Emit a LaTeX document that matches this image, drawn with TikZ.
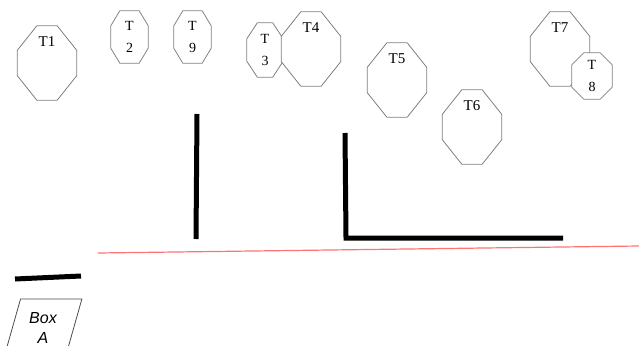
\documentclass[tikz,border=0pt]{standalone}
\usepackage{fontspec}
\setmainfont{Liberation Serif}
\newfontfamily\boxfont{Liberation Sans}
\usepackage{tikz}
\usetikzlibrary{shapes.geometric,backgrounds}
\tikzset{tbox/.style={minimum width=59pt,minimum height=74pt,inner sep=0pt,
        font=\fontsize{14}{22}\selectfont,align=center},
    tname/.style={label={[anchor=north,inner sep=0pt,yshift=-11pt,
        font=\fontsize{15}{17}\selectfont]north:#1}},
    tsmall/.style={minimum width=37pt,minimum height=52pt},
    tline/.style={draw=gray,fill=white,line width=0.8pt},
    octagon/.style n args={3}{insert path={
        ([xshift=#2]#1.north west) -- ([xshift=-#2]#1.north east)
        -- ([yshift=-#3]#1.north east) -- ([yshift=#3]#1.south east)
        -- ([xshift=-#2]#1.south east) -- ([xshift=#2]#1.south west)
        -- ([yshift=#3]#1.south west) -- ([yshift=-#3]#1.north west) -- cycle}},
    wall/.style={line width=5pt},
    floorline/.style={draw=red!55,line width=1.2pt}}

\begin{document}
\begin{tikzpicture}[x=1pt,y=-1pt]
    \useasboundingbox (0,0) rectangle (639,345);
    \clip (0,0) rectangle (639,345);
    % tables
    \node[tbox,tname=T1] (t1) at (47,63) {};
    \node[tbox,tsmall] (t2) at (129.5,37) {T\\2};
    \node[tbox,tsmall] (t9) at (192.5,37) {T\\9};
    \node[tbox,tsmall,minimum width=36pt,minimum height=54pt] (t3) at (265,50) {T\\3};
    \node[tbox,tname=T4] (t4) at (311,49) {};
    \node[tbox,tname=T5] (t5) at (397,80) {};
    \node[tbox,tname=T6] (t6) at (472,127) {};
    \node[tbox,tname=T7] (t7) at (560,49) {};
    \node[tbox,tsmall,minimum width=40pt,minimum height=46pt] (t8) at (592,76) {T\\8};
    \begin{pgfonlayer}{background}
        \foreach \t/\cx/\cy in {t1/19.5/24.5, t2/9/15, t9/9/15, t3/10.5/16,
            t4/19.5/24.5, t5/19.5/24.5, t6/19.5/24.5, t7/19.5/24.5, t8/12/12}
            \path[tline][octagon={\t}{\cx pt}{\cy pt}];
    \end{pgfonlayer}
    % walls
    \coordinate (w1a) at (197,114);
    \coordinate (w1b) at (196,239);
    \coordinate (w2a) at (345,133);
    \coordinate (w2b) at (346,238);
    \coordinate (w2c) at (563,238);
    \draw[wall] (w1a) -- (w1b);
    \draw[wall] (w2a) -- (w2b) -- (w2c);
    \coordinate (fl) at (98,253);
    \coordinate (fr) at (639,246);
    \draw[floorline] (fl) -- (fr);
    % box
    \coordinate (ba) at (15,279);
    \coordinate (bb) at (81,276);
    \draw[wall] (ba) -- (bb);
    \node[draw=gray!60!black,line width=0.8pt,trapezium,
        trapezium left angle=72,trapezium right angle=108,
        trapezium stretches=true,minimum width=78pt,minimum height=58pt,
        inner sep=0pt,align=center,
        font=\boxfont\itshape\fontsize{16}{20}\selectfont] (boxa) at (43,328) {Box\\A};
\end{tikzpicture}
\end{document}
